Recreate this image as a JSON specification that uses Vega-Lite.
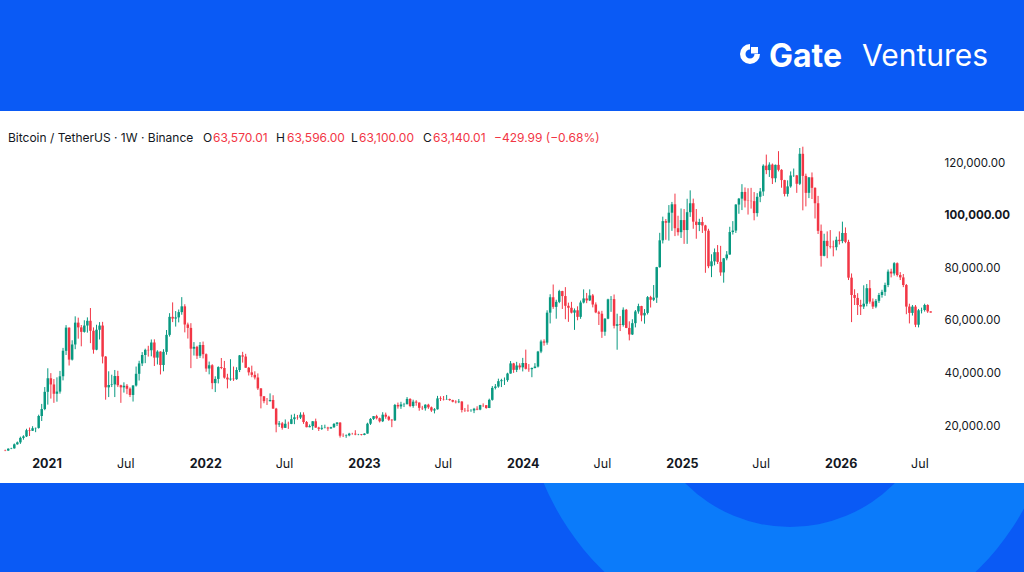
{
  "$schema": "https://vega.github.io/schema/vega-lite/v6.json",
  "width": 1024,
  "height": 372,
  "autosize": "none",
  "padding": {"top": 111, "left": 0, "right": 0, "bottom": 89},
  "background": "#0a5af5",
  "view": {"stroke": null},
  "config": {"font": "Inter"},
  "datasets": {
    "btc": [
      {"d":"2020-09-28","o":10780,"h":11000,"l":10430,"c":10670},
      {"d":"2020-10-05","o":10670,"h":11500,"l":10530,"c":11370},
      {"d":"2020-10-12","o":11370,"h":11720,"l":11200,"c":11500},
      {"d":"2020-10-19","o":11500,"h":13350,"l":11400,"c":13030},
      {"d":"2020-10-26","o":13030,"h":14100,"l":12900,"c":13780},
      {"d":"2020-11-02","o":13780,"h":15960,"l":13200,"c":15480},
      {"d":"2020-11-09","o":15480,"h":16480,"l":14800,"c":16050},
      {"d":"2020-11-16","o":16050,"h":18950,"l":15800,"c":18400},
      {"d":"2020-11-23","o":18400,"h":19420,"l":16200,"c":18180},
      {"d":"2020-11-30","o":18180,"h":19920,"l":18100,"c":19150},
      {"d":"2020-12-07","o":19150,"h":19400,"l":17650,"c":19270},
      {"d":"2020-12-14","o":19270,"h":24300,"l":19000,"c":23800},
      {"d":"2020-12-21","o":23800,"h":28400,"l":21900,"c":26440},
      {"d":"2020-12-28","o":26440,"h":34800,"l":26000,"c":33000},
      {"d":"2021-01-04","o":33000,"h":41950,"l":28130,"c":38150},
      {"d":"2021-01-11","o":38150,"h":40100,"l":30420,"c":35800},
      {"d":"2021-01-18","o":35800,"h":37850,"l":28800,"c":32260},
      {"d":"2021-01-25","o":32260,"h":38500,"l":29240,"c":33090},
      {"d":"2021-02-01","o":33090,"h":40950,"l":32300,"c":38900},
      {"d":"2021-02-08","o":38900,"h":49700,"l":37350,"c":48580},
      {"d":"2021-02-15","o":48580,"h":58350,"l":47000,"c":57400},
      {"d":"2021-02-22","o":57400,"h":57500,"l":43000,"c":45240},
      {"d":"2021-03-01","o":45240,"h":52600,"l":44900,"c":51000},
      {"d":"2021-03-08","o":51000,"h":61700,"l":49200,"c":59300},
      {"d":"2021-03-15","o":59300,"h":61200,"l":53200,"c":57500},
      {"d":"2021-03-22","o":57500,"h":58400,"l":50300,"c":55800},
      {"d":"2021-03-29","o":55800,"h":60200,"l":55500,"c":58200},
      {"d":"2021-04-05","o":58200,"h":61300,"l":55500,"c":60000},
      {"d":"2021-04-12","o":60000,"h":64850,"l":51500,"c":56200},
      {"d":"2021-04-19","o":56200,"h":57500,"l":47500,"c":49000},
      {"d":"2021-04-26","o":49000,"h":58500,"l":48800,"c":56600},
      {"d":"2021-05-03","o":56600,"h":59500,"l":52900,"c":58200},
      {"d":"2021-05-10","o":58200,"h":59600,"l":43800,"c":46400},
      {"d":"2021-05-17","o":46400,"h":46600,"l":30000,"c":34700},
      {"d":"2021-05-24","o":34700,"h":40800,"l":31000,"c":35600},
      {"d":"2021-05-31","o":35600,"h":39500,"l":34800,"c":35800},
      {"d":"2021-06-07","o":35800,"h":41300,"l":31000,"c":39000},
      {"d":"2021-06-14","o":39000,"h":41000,"l":34800,"c":35500},
      {"d":"2021-06-21","o":35500,"h":35700,"l":28800,"c":34700},
      {"d":"2021-06-28","o":34700,"h":36600,"l":32700,"c":35300},
      {"d":"2021-07-05","o":35300,"h":35950,"l":32100,"c":34200},
      {"d":"2021-07-12","o":34200,"h":34700,"l":31000,"c":31800},
      {"d":"2021-07-19","o":31800,"h":35500,"l":29300,"c":35400},
      {"d":"2021-07-26","o":35400,"h":42600,"l":35000,"c":39850},
      {"d":"2021-08-02","o":39850,"h":44800,"l":37300,"c":43800},
      {"d":"2021-08-09","o":43800,"h":48100,"l":42800,"c":47000},
      {"d":"2021-08-16","o":47000,"h":49400,"l":43900,"c":48950},
      {"d":"2021-08-23","o":48950,"h":50500,"l":46400,"c":48800},
      {"d":"2021-08-30","o":48800,"h":52900,"l":46500,"c":51750},
      {"d":"2021-09-06","o":51750,"h":52950,"l":42800,"c":46000},
      {"d":"2021-09-13","o":46000,"h":48800,"l":43400,"c":48300},
      {"d":"2021-09-20","o":48300,"h":48400,"l":39600,"c":43200},
      {"d":"2021-09-27","o":43200,"h":49200,"l":40800,"c":48200},
      {"d":"2021-10-04","o":48200,"h":56500,"l":47100,"c":54650},
      {"d":"2021-10-11","o":54650,"h":62900,"l":54000,"c":61500},
      {"d":"2021-10-18","o":61500,"h":67000,"l":59500,"c":60850},
      {"d":"2021-10-25","o":60850,"h":63700,"l":57800,"c":61300},
      {"d":"2021-11-01","o":61300,"h":64300,"l":59400,"c":63300},
      {"d":"2021-11-08","o":63300,"h":69000,"l":62300,"c":65500},
      {"d":"2021-11-15","o":65500,"h":66300,"l":55600,"c":58600},
      {"d":"2021-11-22","o":58600,"h":59300,"l":53250,"c":57300},
      {"d":"2021-11-29","o":57300,"h":59100,"l":42000,"c":49400},
      {"d":"2021-12-06","o":49400,"h":51900,"l":46800,"c":50100},
      {"d":"2021-12-13","o":50100,"h":50500,"l":45500,"c":46700},
      {"d":"2021-12-20","o":46700,"h":51900,"l":45900,"c":50800},
      {"d":"2021-12-27","o":50800,"h":52100,"l":45700,"c":47300},
      {"d":"2022-01-03","o":47300,"h":47600,"l":40600,"c":41850},
      {"d":"2022-01-10","o":41850,"h":44500,"l":39650,"c":43100},
      {"d":"2022-01-17","o":43100,"h":43500,"l":34000,"c":36300},
      {"d":"2022-01-24","o":36300,"h":38900,"l":32900,"c":37900},
      {"d":"2022-01-31","o":37900,"h":42700,"l":36200,"c":42400},
      {"d":"2022-02-07","o":42400,"h":45850,"l":41600,"c":42050},
      {"d":"2022-02-14","o":42050,"h":44750,"l":38000,"c":38400},
      {"d":"2022-02-21","o":38400,"h":39850,"l":34300,"c":37700},
      {"d":"2022-02-28","o":37700,"h":45400,"l":37200,"c":38000},
      {"d":"2022-03-07","o":38000,"h":42600,"l":37150,"c":37800},
      {"d":"2022-03-14","o":37800,"h":42350,"l":37550,"c":41300},
      {"d":"2022-03-21","o":41300,"h":47000,"l":40500,"c":46850},
      {"d":"2022-03-28","o":46850,"h":48200,"l":44100,"c":46400},
      {"d":"2022-04-04","o":46400,"h":47450,"l":42100,"c":42150},
      {"d":"2022-04-11","o":42150,"h":42450,"l":39200,"c":40400},
      {"d":"2022-04-18","o":40400,"h":42950,"l":38550,"c":39450},
      {"d":"2022-04-25","o":39450,"h":40800,"l":37700,"c":38450},
      {"d":"2022-05-02","o":38450,"h":40000,"l":33700,"c":34300},
      {"d":"2022-05-09","o":34300,"h":34400,"l":26700,"c":31300},
      {"d":"2022-05-16","o":31300,"h":31400,"l":28650,"c":29450},
      {"d":"2022-05-23","o":29450,"h":30650,"l":28000,"c":29440},
      {"d":"2022-05-30","o":29440,"h":32400,"l":29300,"c":29900},
      {"d":"2022-06-06","o":29900,"h":31700,"l":26560,"c":26600},
      {"d":"2022-06-13","o":26600,"h":26900,"l":17600,"c":20550},
      {"d":"2022-06-20","o":20550,"h":21900,"l":19650,"c":21000},
      {"d":"2022-06-27","o":21000,"h":21550,"l":18600,"c":19300},
      {"d":"2022-07-04","o":19300,"h":22500,"l":19250,"c":20850},
      {"d":"2022-07-11","o":20850,"h":21650,"l":18900,"c":20800},
      {"d":"2022-07-18","o":20800,"h":24300,"l":20700,"c":22600},
      {"d":"2022-07-25","o":22600,"h":24650,"l":20700,"c":23300},
      {"d":"2022-08-01","o":23300,"h":24200,"l":22400,"c":23200},
      {"d":"2022-08-08","o":23200,"h":25200,"l":22650,"c":24300},
      {"d":"2022-08-15","o":24300,"h":25200,"l":20800,"c":21500},
      {"d":"2022-08-22","o":21500,"h":21900,"l":19500,"c":19550},
      {"d":"2022-08-29","o":19550,"h":20600,"l":19500,"c":19950},
      {"d":"2022-09-05","o":19950,"h":21850,"l":18500,"c":21800},
      {"d":"2022-09-12","o":21800,"h":22800,"l":19300,"c":19400},
      {"d":"2022-09-19","o":19400,"h":19700,"l":18100,"c":18950},
      {"d":"2022-09-26","o":18950,"h":20400,"l":18500,"c":19300},
      {"d":"2022-10-03","o":19300,"h":20500,"l":19100,"c":19400},
      {"d":"2022-10-10","o":19400,"h":19700,"l":18150,"c":19070},
      {"d":"2022-10-17","o":19070,"h":19700,"l":18950,"c":19550},
      {"d":"2022-10-24","o":19550,"h":21100,"l":19250,"c":20800},
      {"d":"2022-10-31","o":20800,"h":21500,"l":20000,"c":21300},
      {"d":"2022-11-07","o":21300,"h":21450,"l":15600,"c":16300},
      {"d":"2022-11-14","o":16300,"h":17200,"l":15800,"c":16280},
      {"d":"2022-11-21","o":16280,"h":16800,"l":15500,"c":16450},
      {"d":"2022-11-28","o":16450,"h":17400,"l":16100,"c":17100},
      {"d":"2022-12-05","o":17100,"h":17400,"l":16700,"c":17080},
      {"d":"2022-12-12","o":17080,"h":18400,"l":16500,"c":16780},
      {"d":"2022-12-19","o":16780,"h":17000,"l":16500,"c":16840},
      {"d":"2022-12-26","o":16840,"h":16950,"l":16400,"c":16600},
      {"d":"2023-01-02","o":16600,"h":17250,"l":16500,"c":17120},
      {"d":"2023-01-09","o":17120,"h":21250,"l":17100,"c":20880},
      {"d":"2023-01-16","o":20880,"h":23000,"l":20400,"c":22700},
      {"d":"2023-01-23","o":22700,"h":23800,"l":22300,"c":23750},
      {"d":"2023-01-30","o":23750,"h":24250,"l":22500,"c":22950},
      {"d":"2023-02-06","o":22950,"h":23200,"l":21350,"c":21800},
      {"d":"2023-02-13","o":21800,"h":25250,"l":21500,"c":24300},
      {"d":"2023-02-20","o":24300,"h":25100,"l":22750,"c":23550},
      {"d":"2023-02-27","o":23550,"h":23900,"l":21950,"c":22400},
      {"d":"2023-03-06","o":22400,"h":22600,"l":19550,"c":22150},
      {"d":"2023-03-13","o":22150,"h":28400,"l":21900,"c":28000},
      {"d":"2023-03-20","o":28000,"h":28900,"l":26600,"c":27450},
      {"d":"2023-03-27","o":27450,"h":29200,"l":26500,"c":28200},
      {"d":"2023-04-03","o":28200,"h":28800,"l":27200,"c":28300},
      {"d":"2023-04-10","o":28300,"h":31000,"l":28200,"c":30300},
      {"d":"2023-04-17","o":30300,"h":30550,"l":27150,"c":27600},
      {"d":"2023-04-24","o":27600,"h":30000,"l":26950,"c":29250},
      {"d":"2023-05-01","o":29250,"h":29800,"l":27700,"c":28900},
      {"d":"2023-05-08","o":28900,"h":29000,"l":25800,"c":26900},
      {"d":"2023-05-15","o":26900,"h":27650,"l":26100,"c":26750},
      {"d":"2023-05-22","o":26750,"h":28250,"l":25850,"c":28100},
      {"d":"2023-05-29","o":28100,"h":28450,"l":26500,"c":27100},
      {"d":"2023-06-05","o":27100,"h":27400,"l":25350,"c":25900},
      {"d":"2023-06-12","o":25900,"h":26800,"l":24800,"c":26350},
      {"d":"2023-06-19","o":26350,"h":31450,"l":26250,"c":30500},
      {"d":"2023-06-26","o":30500,"h":31300,"l":29500,"c":30250},
      {"d":"2023-07-03","o":30250,"h":31400,"l":29700,"c":30150},
      {"d":"2023-07-10","o":30150,"h":31800,"l":29950,"c":30250},
      {"d":"2023-07-17","o":30250,"h":30400,"l":29600,"c":29850},
      {"d":"2023-07-24","o":29850,"h":29990,"l":29000,"c":29250},
      {"d":"2023-07-31","o":29250,"h":29800,"l":28600,"c":29050},
      {"d":"2023-08-07","o":29050,"h":30250,"l":28700,"c":29300},
      {"d":"2023-08-14","o":29300,"h":29450,"l":25150,"c":26100},
      {"d":"2023-08-21","o":26100,"h":26850,"l":25350,"c":26000},
      {"d":"2023-08-28","o":26000,"h":28150,"l":25350,"c":25850},
      {"d":"2023-09-04","o":25850,"h":26400,"l":25400,"c":25880},
      {"d":"2023-09-11","o":25880,"h":26900,"l":24900,"c":26550},
      {"d":"2023-09-18","o":26550,"h":27500,"l":26000,"c":26250},
      {"d":"2023-09-25","o":26250,"h":28050,"l":26000,"c":27950},
      {"d":"2023-10-02","o":27950,"h":28600,"l":27200,"c":27900},
      {"d":"2023-10-09","o":27900,"h":27950,"l":26550,"c":26850},
      {"d":"2023-10-16","o":26850,"h":30400,"l":26800,"c":29950},
      {"d":"2023-10-23","o":29950,"h":35200,"l":29650,"c":34500},
      {"d":"2023-10-30","o":34500,"h":35950,"l":33900,"c":35000},
      {"d":"2023-11-06","o":35000,"h":38000,"l":34550,"c":37050},
      {"d":"2023-11-13","o":37050,"h":37950,"l":34800,"c":37400},
      {"d":"2023-11-20","o":37400,"h":38450,"l":35600,"c":37450},
      {"d":"2023-11-27","o":37450,"h":40250,"l":36800,"c":39950},
      {"d":"2023-12-04","o":39950,"h":44700,"l":39900,"c":43800},
      {"d":"2023-12-11","o":43800,"h":44000,"l":40200,"c":41350},
      {"d":"2023-12-18","o":41350,"h":44400,"l":40500,"c":43000},
      {"d":"2023-12-25","o":43000,"h":43850,"l":41450,"c":42300},
      {"d":"2024-01-01","o":42300,"h":45900,"l":40750,"c":43950},
      {"d":"2024-01-08","o":43950,"h":49050,"l":41500,"c":41750},
      {"d":"2024-01-15","o":41750,"h":43550,"l":40600,"c":41600},
      {"d":"2024-01-22","o":41600,"h":42250,"l":38550,"c":42050},
      {"d":"2024-01-29","o":42050,"h":43900,"l":41900,"c":42600},
      {"d":"2024-02-05","o":42600,"h":48550,"l":42250,"c":48300},
      {"d":"2024-02-12","o":48300,"h":52800,"l":47700,"c":52150},
      {"d":"2024-02-19","o":52150,"h":52950,"l":50550,"c":51700},
      {"d":"2024-02-26","o":51700,"h":64000,"l":50900,"c":63100},
      {"d":"2024-03-04","o":63100,"h":70100,"l":59000,"c":68950},
      {"d":"2024-03-11","o":68950,"h":73800,"l":64550,"c":65300},
      {"d":"2024-03-18","o":65300,"h":68000,"l":60800,"c":67200},
      {"d":"2024-03-25","o":67200,"h":71800,"l":66700,"c":71300},
      {"d":"2024-04-01","o":71300,"h":71400,"l":64500,"c":69400},
      {"d":"2024-04-08","o":69400,"h":72800,"l":60600,"c":65700},
      {"d":"2024-04-15","o":65700,"h":66900,"l":59600,"c":64950},
      {"d":"2024-04-22","o":64950,"h":67200,"l":62800,"c":63100},
      {"d":"2024-04-29","o":63100,"h":64700,"l":56550,"c":64000},
      {"d":"2024-05-06","o":64000,"h":65500,"l":60200,"c":61500},
      {"d":"2024-05-13","o":61500,"h":67700,"l":60750,"c":66950},
      {"d":"2024-05-20","o":66950,"h":71950,"l":66600,"c":68500},
      {"d":"2024-05-27","o":68500,"h":70600,"l":66700,"c":67750},
      {"d":"2024-06-03","o":67750,"h":71950,"l":67500,"c":69650},
      {"d":"2024-06-10","o":69650,"h":70200,"l":65100,"c":66200},
      {"d":"2024-06-17","o":66200,"h":67000,"l":62900,"c":63200},
      {"d":"2024-06-24","o":63200,"h":63800,"l":58400,"c":62700},
      {"d":"2024-07-01","o":62700,"h":63800,"l":53500,"c":55850},
      {"d":"2024-07-08","o":55850,"h":61000,"l":54300,"c":60800},
      {"d":"2024-07-15","o":60800,"h":68400,"l":60600,"c":68150},
      {"d":"2024-07-22","o":68150,"h":69400,"l":63400,"c":68250},
      {"d":"2024-07-29","o":68250,"h":70000,"l":57100,"c":58100},
      {"d":"2024-08-05","o":58100,"h":62700,"l":49000,"c":58700},
      {"d":"2024-08-12","o":58700,"h":61800,"l":56100,"c":58400},
      {"d":"2024-08-19","o":58400,"h":65100,"l":57800,"c":64200},
      {"d":"2024-08-26","o":64200,"h":64500,"l":57200,"c":57300},
      {"d":"2024-09-02","o":57300,"h":59800,"l":52550,"c":54800},
      {"d":"2024-09-09","o":54800,"h":60600,"l":54600,"c":59100},
      {"d":"2024-09-16","o":59100,"h":64100,"l":57500,"c":63550},
      {"d":"2024-09-23","o":63550,"h":66500,"l":62700,"c":65600},
      {"d":"2024-09-30","o":65600,"h":65700,"l":59800,"c":62050},
      {"d":"2024-10-07","o":62050,"h":64450,"l":58900,"c":63000},
      {"d":"2024-10-14","o":63000,"h":69400,"l":62400,"c":69000},
      {"d":"2024-10-21","o":69000,"h":69500,"l":65050,"c":68000},
      {"d":"2024-10-28","o":68000,"h":73600,"l":67500,"c":68800},
      {"d":"2024-11-04","o":68800,"h":80500,"l":66800,"c":80400},
      {"d":"2024-11-11","o":80400,"h":93450,"l":80200,"c":90600},
      {"d":"2024-11-18","o":90600,"h":99600,"l":89400,"c":97900},
      {"d":"2024-11-25","o":97900,"h":98700,"l":90800,"c":97300},
      {"d":"2024-12-02","o":97300,"h":104000,"l":90500,"c":101100},
      {"d":"2024-12-09","o":101100,"h":105200,"l":94200,"c":104300},
      {"d":"2024-12-16","o":104300,"h":108350,"l":92200,"c":95200},
      {"d":"2024-12-23","o":95200,"h":99950,"l":92400,"c":93700},
      {"d":"2024-12-30","o":93700,"h":102700,"l":91500,"c":98300},
      {"d":"2025-01-06","o":98300,"h":102500,"l":89250,"c":94500},
      {"d":"2025-01-13","o":94500,"h":106400,"l":89250,"c":101300},
      {"d":"2025-01-20","o":101300,"h":109600,"l":99500,"c":104700},
      {"d":"2025-01-27","o":104700,"h":106450,"l":95000,"c":97700},
      {"d":"2025-02-03","o":97700,"h":102500,"l":91200,"c":96450},
      {"d":"2025-02-10","o":96450,"h":98800,"l":94100,"c":97550},
      {"d":"2025-02-17","o":97550,"h":99500,"l":93400,"c":96250},
      {"d":"2025-02-24","o":96250,"h":96500,"l":78250,"c":94250},
      {"d":"2025-03-03","o":94250,"h":95000,"l":80000,"c":80750},
      {"d":"2025-03-10","o":80750,"h":85300,"l":76600,"c":82600},
      {"d":"2025-03-17","o":82600,"h":87500,"l":81100,"c":86100},
      {"d":"2025-03-24","o":86100,"h":88800,"l":81600,"c":82400},
      {"d":"2025-03-31","o":82400,"h":88500,"l":77100,"c":78400},
      {"d":"2025-04-07","o":78400,"h":83900,"l":74500,"c":83750},
      {"d":"2025-04-14","o":83750,"h":86500,"l":83000,"c":85200},
      {"d":"2025-04-21","o":85200,"h":95750,"l":85100,"c":93750},
      {"d":"2025-04-28","o":93750,"h":97900,"l":92800,"c":94300},
      {"d":"2025-05-05","o":94300,"h":104350,"l":93400,"c":104200},
      {"d":"2025-05-12","o":104200,"h":106700,"l":100700,"c":106450},
      {"d":"2025-05-19","o":106450,"h":111950,"l":102100,"c":109000},
      {"d":"2025-05-26","o":109000,"h":110700,"l":103100,"c":105700},
      {"d":"2025-06-02","o":105700,"h":110400,"l":100400,"c":105600},
      {"d":"2025-06-09","o":105600,"h":110550,"l":102650,"c":105500},
      {"d":"2025-06-16","o":105500,"h":108950,"l":98200,"c":100950},
      {"d":"2025-06-23","o":100950,"h":108550,"l":99600,"c":107150},
      {"d":"2025-06-30","o":107150,"h":110500,"l":105100,"c":109200},
      {"d":"2025-07-07","o":109200,"h":119500,"l":107500,"c":119000},
      {"d":"2025-07-14","o":119000,"h":123200,"l":115750,"c":117300},
      {"d":"2025-07-21","o":117300,"h":120250,"l":114700,"c":119400},
      {"d":"2025-07-28","o":119400,"h":119800,"l":112000,"c":114200},
      {"d":"2025-08-04","o":114200,"h":119400,"l":112650,"c":119300},
      {"d":"2025-08-11","o":119300,"h":124500,"l":116800,"c":117400},
      {"d":"2025-08-18","o":117400,"h":117650,"l":110600,"c":113500},
      {"d":"2025-08-25","o":113500,"h":113600,"l":107300,"c":108250},
      {"d":"2025-09-01","o":108250,"h":113400,"l":107250,"c":111100},
      {"d":"2025-09-08","o":111100,"h":116800,"l":110600,"c":115250},
      {"d":"2025-09-15","o":115250,"h":117900,"l":114700,"c":115300},
      {"d":"2025-09-22","o":115300,"h":115450,"l":108650,"c":112100},
      {"d":"2025-09-29","o":112100,"h":125700,"l":111600,"c":123500},
      {"d":"2025-10-06","o":123500,"h":126200,"l":102000,"c":115100},
      {"d":"2025-10-13","o":115100,"h":115950,"l":103500,"c":108650},
      {"d":"2025-10-20","o":108650,"h":114600,"l":106650,"c":114550},
      {"d":"2025-10-27","o":114550,"h":116400,"l":106300,"c":110550},
      {"d":"2025-11-03","o":110550,"h":110750,"l":98900,"c":104700},
      {"d":"2025-11-10","o":104700,"h":107500,"l":93000,"c":94200},
      {"d":"2025-11-17","o":94200,"h":96600,"l":80600,"c":84700},
      {"d":"2025-11-24","o":84700,"h":93100,"l":84500,"c":90400},
      {"d":"2025-12-01","o":90400,"h":94000,"l":83800,"c":88400},
      {"d":"2025-12-08","o":88400,"h":94500,"l":87500,"c":88200},
      {"d":"2025-12-15","o":88200,"h":90500,"l":84500,"c":88000},
      {"d":"2025-12-22","o":88000,"h":92000,"l":86800,"c":90800},
      {"d":"2025-12-29","o":90800,"h":94000,"l":89000,"c":90300},
      {"d":"2026-01-05","o":90300,"h":97700,"l":89500,"c":93400},
      {"d":"2026-01-12","o":93400,"h":95500,"l":89500,"c":90000},
      {"d":"2026-01-19","o":90000,"h":90800,"l":75500,"c":76400},
      {"d":"2026-01-26","o":76400,"h":78000,"l":59500,"c":69800},
      {"d":"2026-02-02","o":69800,"h":72000,"l":66000,"c":68700},
      {"d":"2026-02-09","o":68700,"h":70500,"l":62200,"c":66000},
      {"d":"2026-02-16","o":66000,"h":68000,"l":62200,"c":65400},
      {"d":"2026-02-23","o":65400,"h":73500,"l":64500,"c":66500},
      {"d":"2026-03-02","o":66500,"h":74000,"l":65500,"c":72400},
      {"d":"2026-03-09","o":72400,"h":75500,"l":66500,"c":67300},
      {"d":"2026-03-16","o":67300,"h":68500,"l":64500,"c":65400},
      {"d":"2026-03-23","o":65400,"h":68300,"l":64800,"c":67600},
      {"d":"2026-03-30","o":67600,"h":70600,"l":66800,"c":69800},
      {"d":"2026-04-06","o":69800,"h":71800,"l":68800,"c":71000},
      {"d":"2026-04-13","o":71000,"h":74500,"l":69500,"c":73600},
      {"d":"2026-04-20","o":73600,"h":79500,"l":72800,"c":78700},
      {"d":"2026-04-27","o":78700,"h":79800,"l":76500,"c":78000},
      {"d":"2026-05-04","o":78000,"h":82300,"l":77200,"c":81900},
      {"d":"2026-05-11","o":81900,"h":82200,"l":76800,"c":77400},
      {"d":"2026-05-18","o":77400,"h":78500,"l":75500,"c":76500},
      {"d":"2026-05-25","o":76500,"h":77800,"l":72800,"c":73600},
      {"d":"2026-06-01","o":73600,"h":74000,"l":62500,"c":65400},
      {"d":"2026-06-08","o":65400,"h":66500,"l":59000,"c":63000},
      {"d":"2026-06-15","o":63000,"h":66000,"l":62000,"c":65400},
      {"d":"2026-06-22","o":65400,"h":66000,"l":57600,"c":58500},
      {"d":"2026-06-29","o":58500,"h":64500,"l":57500,"c":64000},
      {"d":"2026-07-06","o":64000,"h":65000,"l":62800,"c":64100},
      {"d":"2026-07-13","o":64100,"h":66500,"l":63500,"c":66000},
      {"d":"2026-07-20","o":66000,"h":66300,"l":63000,"c":63570},
      {"d":"2026-07-27","o":63570,"h":63596,"l":63100,"c":63140}
    ]
  },
  "layer": [
    {
      "data": {"values": [{}]},
      "mark": {"type": "arc", "x": 790, "y": 269, "outerRadius": 267, "innerRadius": 147, "theta": 0, "theta2": 6.2832, "color": "#0b7bfa"},
      "encoding": {}
    },
    {
      "data": {"values": [{}]},
      "mark": {"type": "rect", "x": 0, "x2": 1024, "y": 0, "y2": 372, "color": "#ffffff"},
      "encoding": {}
    },
    {
      "data": {"name": "btc"},
      "encoding": {
        "x": {
          "field": "d",
          "type": "temporal",
          "scale": {
            "type": "utc",
            "domain": [
              {"year": 2020, "month": 9, "date": 27, "hours": 14, "utc": true},
              {"year": 2027, "month": 2, "date": 15, "utc": true}
            ]
          },
          "axis": {
            "orient": "bottom",
            "offset": -26,
            "title": null,
            "grid": false,
            "ticks": false,
            "domain": false,
            "labelPadding": 0,
            "labelFlush": false,
            "labelOverlap": false,
            "labelFontSize": 12.5,
            "labelColor": "#131722",
            "labelFontWeight": {"condition": {"test": "utcFormat(datum.value, '%m') == '01'", "value": "bold"}, "value": "normal"},
            "labelExpr": "utcFormat(datum.value, '%m') == '01' ? utcFormat(datum.value, '%Y') : 'Jul'",
            "values": [
              {"year": 2021, "month": 1, "date": 1, "utc": true},
              {"year": 2021, "month": 7, "date": 1, "utc": true},
              {"year": 2022, "month": 1, "date": 1, "utc": true},
              {"year": 2022, "month": 7, "date": 1, "utc": true},
              {"year": 2023, "month": 1, "date": 1, "utc": true},
              {"year": 2023, "month": 7, "date": 1, "utc": true},
              {"year": 2024, "month": 1, "date": 1, "utc": true},
              {"year": 2024, "month": 7, "date": 1, "utc": true},
              {"year": 2025, "month": 1, "date": 1, "utc": true},
              {"year": 2025, "month": 7, "date": 1, "utc": true},
              {"year": 2026, "month": 1, "date": 1, "utc": true},
              {"year": 2026, "month": 7, "date": 1, "utc": true}
            ],
            "zindex": 1
          }
        },
        "color": {
          "condition": {"test": "datum.c >= datum.o", "value": "#089981"},
          "value": "#f23645"
        }
      },
      "layer": [
        {
          "mark": {"type": "rule", "strokeWidth": 1},
          "encoding": {
            "y": {
              "field": "l",
              "type": "quantitative",
              "scale": {"domain": [-1673, 139772], "nice": false, "zero": false},
              "axis": {
                "orient": "right",
                "offset": -80,
                "title": null,
                "grid": false,
                "ticks": false,
                "domain": false,
                "labelPadding": 0,
                "labelAlign": "left",
                "labelBaseline": "middle",
                "labelFontSize": 11.5,
                "labelColor": "#131722",
                "labelFontWeight": {"condition": {"test": "datum.value == 100000", "value": "bold"}, "value": "normal"},
                "format": ",.2f",
                "values": [20000, 40000, 60000, 80000, 100000, 120000],
                "zindex": 1
              }
            },
            "y2": {"field": "h"}
          }
        },
        {
          "mark": {"type": "bar", "width": 2.5},
          "encoding": {
            "y": {
              "field": "o",
              "type": "quantitative",
              "scale": {"domain": [-1673, 139772], "nice": false, "zero": false},
              "axis": {
                "orient": "right",
                "offset": -80,
                "title": null,
                "grid": false,
                "ticks": false,
                "domain": false,
                "labelPadding": 0,
                "labelAlign": "left",
                "labelBaseline": "middle",
                "labelFontSize": 11.5,
                "labelColor": "#131722",
                "labelFontWeight": {"condition": {"test": "datum.value == 100000", "value": "bold"}, "value": "normal"},
                "format": ",.2f",
                "values": [20000, 40000, 60000, 80000, 100000, 120000],
                "zindex": 1
              }
            },
            "y2": {"field": "c"}
          }
        }
      ]
    },
    {
      "data": {"values": [{}]},
      "mark": {"type": "text", "x": 8, "y": 27, "align": "left", "baseline": "middle", "fontSize": 12, "color": "#131722", "text": "Bitcoin / TetherUS · 1W · Binance"}
    },
    {
      "data": {"values": [{}]},
      "mark": {"type": "text", "x": 203, "y": 27, "align": "left", "baseline": "middle", "fontSize": 12, "color": "#131722", "text": "O"}
    },
    {
      "data": {"values": [{}]},
      "mark": {"type": "text", "x": 213, "y": 27, "align": "left", "baseline": "middle", "fontSize": 12, "color": "#f23645", "text": "63,570.01"}
    },
    {
      "data": {"values": [{}]},
      "mark": {"type": "text", "x": 276, "y": 27, "align": "left", "baseline": "middle", "fontSize": 12, "color": "#131722", "text": "H"}
    },
    {
      "data": {"values": [{}]},
      "mark": {"type": "text", "x": 287, "y": 27, "align": "left", "baseline": "middle", "fontSize": 12, "color": "#f23645", "text": "63,596.00"}
    },
    {
      "data": {"values": [{}]},
      "mark": {"type": "text", "x": 351, "y": 27, "align": "left", "baseline": "middle", "fontSize": 12, "color": "#131722", "text": "L"}
    },
    {
      "data": {"values": [{}]},
      "mark": {"type": "text", "x": 359, "y": 27, "align": "left", "baseline": "middle", "fontSize": 12, "color": "#f23645", "text": "63,100.00"}
    },
    {
      "data": {"values": [{}]},
      "mark": {"type": "text", "x": 423, "y": 27, "align": "left", "baseline": "middle", "fontSize": 12, "color": "#131722", "text": "C"}
    },
    {
      "data": {"values": [{}]},
      "mark": {"type": "text", "x": 433, "y": 27, "align": "left", "baseline": "middle", "fontSize": 12, "color": "#f23645", "text": "63,140.01"}
    },
    {
      "data": {"values": [{}]},
      "mark": {"type": "text", "x": 494, "y": 27, "align": "left", "baseline": "middle", "fontSize": 12, "color": "#f23645", "text": "−429.99 (−0.68%)"}
    },
    {
      "data": {"values": [{}]},
      "mark": {"type": "arc", "x": 750, "y": -57, "outerRadius": 10, "innerRadius": 4.5, "theta": 1.5708, "theta2": 6.2832, "color": "#ffffff"},
      "encoding": {}
    },
    {
      "data": {"values": [{}]},
      "mark": {"type": "rect", "x": 751, "x2": 758, "y": -64, "y2": -57.5, "color": "#ffffff"},
      "encoding": {}
    },
    {
      "data": {"values": [{}]},
      "mark": {"type": "text", "x": 769, "y": -54, "align": "left", "baseline": "middle", "fontSize": 32, "fontWeight": "bold", "letterSpacing": 3.5, "color": "#ffffff", "text": "Gate"}
    },
    {
      "data": {"values": [{}]},
      "mark": {"type": "text", "x": 862, "y": -54, "align": "left", "baseline": "middle", "fontSize": 30, "fontWeight": "normal", "color": "#ffffff", "text": "Ventures"}
    }
  ]
}
